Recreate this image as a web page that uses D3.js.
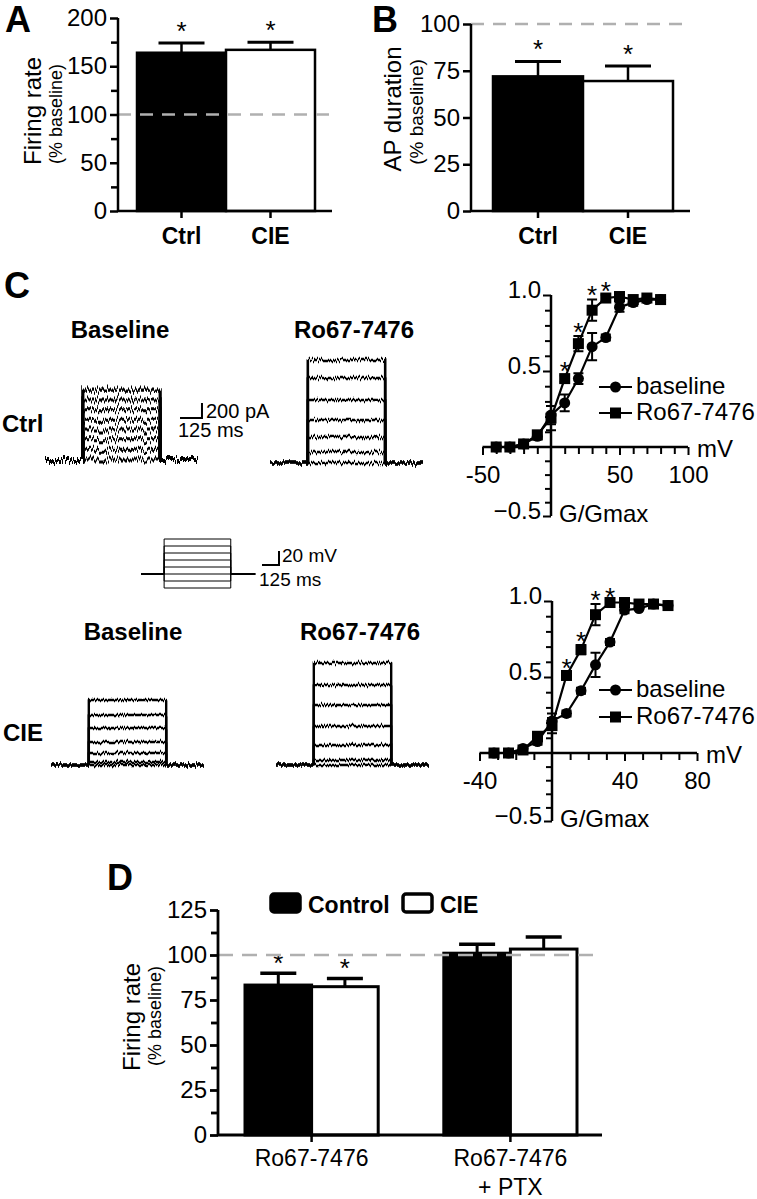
<!DOCTYPE html>
<html><head><meta charset="utf-8">
<script src="https://cdn.jsdelivr.net/npm/d3@7"></script>
<style>body{margin:0;background:#fff} svg{display:block}</style>
</head><body><svg id="fig" width="757" height="1199"></svg>
<script>
// ---------------- DATA ----------------
// Panel A
const groupsAB = ["Ctrl", "CIE"];
const firingA = [164, 167];
const firingAErr = [10, 8];
const firingASig = [true, true];
const ticksA = [0, 50, 100, 150, 200];
const minorTicksA = [25, 75, 125, 175];
// Panel B
const apDur = [72, 69.5];
const apDurErr = [8, 8];
const apDurSig = [true, true];
const ticksB = [0, 25, 50, 75, 100];
// Panel C – example current traces (pA), times (ms)
const traceTimes = [0, 215, 655, 870];
const ctrlBaseLevels = [0, 130, 270, 400, 530, 670, 800, 933];
const ctrlRoLevels = [0, 147, 347, 573, 840, 1133, 1373];
const cieBaseLevels = [0, 40, 160, 307, 493, 667, 867];
const cieRoLevels = [0, 67, 267, 520, 800, 1067, 1360];
// voltage protocol (mV relative to holding), times (ms)
const protocolTimes = [0, 170, 660, 840];
const protocolLevels = [-20, -10, 0, 10, 20, 30, 40, 50];
// Panel C – G/Gmax curves
const ctrlV = [-40, -30, -20, -10, 0, 10, 20, 30, 40, 50, 60, 70, 80];
const ctrlBaseG = [0.00, 0.00, 0.02, 0.07, 0.21, 0.29, 0.45, 0.66, 0.72, 0.92, 0.95, 0.97, 0.97];
const ctrlBaseErr = [0.01, 0.01, 0.01, 0.02, 0.06, 0.055, 0.035, 0.09, 0.02, 0.03, 0.02, 0.01, 0.02];
const ctrlRoG = [0.00, 0.00, 0.02, 0.08, 0.19, 0.45, 0.68, 0.90, 0.98, 0.99, 0.97, 0.98, 0.97];
const ctrlRoErr = [0.01, 0.01, 0.01, 0.02, 0.08, 0.02, 0.05, 0.07, 0.02, 0.01, 0.01, 0.01, 0.01];
const ctrlSigV = [10, 20, 30, 40];
const cieV = [-32, -24, -16, -8, 0, 8, 16, 24, 32, 40, 48, 56, 64];
const cieBaseG = [0.00, 0.00, 0.03, 0.075, 0.21, 0.26, 0.41, 0.58, 0.73, 0.94, 0.95, 0.98, 0.97];
const cieBaseErr = [0.01, 0.01, 0.01, 0.02, 0.05, 0.02, 0.02, 0.08, 0.02, 0.02, 0.01, 0.01, 0.01];
const cieRoG = [0.00, 0.00, 0.02, 0.11, 0.18, 0.51, 0.68, 0.91, 0.99, 0.99, 0.98, 0.98, 0.97];
const cieRoErr = [0.01, 0.01, 0.01, 0.02, 0.05, 0.02, 0.03, 0.07, 0.01, 0.01, 0.01, 0.01, 0.01];
const cieSigV = [8, 16, 24, 32];
const gTicksMajor = [-0.5, 0.5, 1.0];
const gTicksMinor = [-0.4, -0.3, -0.2, -0.1, 0.1, 0.2, 0.3, 0.4, 0.6, 0.7, 0.8, 0.9];
// Panel D
const groupsD = ["Ro67-7476", "Ro67-7476|+ PTX"];
const seriesD = ["Control", "CIE"];
const dControl = [83.3, 101];
const dControlErr = [6.5, 5];
const dCIE = [82.4, 103.3];
const dCIEErr = [4.6, 6.7];
const dSig = [[true, true], [false, false]];
const ticksD = [0, 25, 50, 75, 100, 125];
const minorTicksD = [12.5, 37.5, 62.5, 87.5, 112.5];

// ---------------- DRAWING ----------------
const FONT = "'Liberation Sans', Arial, Helvetica, sans-serif";
const svg = d3.select("#fig").style("font-family", FONT);
const defs = svg.append("defs");
function noiseFilter(id, freq, scale, seed) {
  const f = defs.append("filter").attr("id", id).attr("filterUnits", "userSpaceOnUse")
    .attr("x", 0).attr("y", 0).attr("width", 757).attr("height", 1199);
  f.append("feTurbulence").attr("type", "fractalNoise").attr("baseFrequency", freq)
    .attr("numOctaves", 2).attr("seed", seed).attr("result", "t");
  f.append("feColorMatrix").attr("in", "t").attr("type", "matrix")
    .attr("values", "0 0 0 0 0.5  0 1 0 0 0  0 0 0 0 0  0 0 0 0 1").attr("result", "m");
  f.append("feDisplacementMap").attr("in", "SourceGraphic").attr("in2", "m")
    .attr("scale", scale).attr("xChannelSelector", "R").attr("yChannelSelector", "G");
}
noiseFilter("nz1", "0.7 0.01", 14, 2);
noiseFilter("nz2", "0.7 0.01", 8, 5);
noiseFilter("nz3", "0.7 0.01", 6, 7);

function text(x, y, str, size, opts = {}) {
  return svg.append("text").attr("x", x).attr("y", y).text(str)
    .attr("font-size", size).attr("font-weight", opts.bold ? "bold" : null)
    .attr("text-anchor", opts.anchor || "start").attr("fill", "#000");
}
function vText(cx, cy, str, size) {
  svg.append("text").attr("transform", `translate(${cx},${cy}) rotate(-90)`)
    .attr("text-anchor", "middle").attr("dy", "0.35em").attr("font-size", size).text(str);
}
function star(x, yc, size = 26) {
  text(x, yc + 0.57 * size, "*", size, { anchor: "middle" });
}
function styleAxis(g, sw = 2.2) {
  g.selectAll("path.domain").remove();
  g.selectAll(".tick line").attr("stroke", "#000").attr("stroke-width", sw);
  g.selectAll(".tick text").attr("fill", "#000").attr("font-family", FONT);
}
function yAxisWithMinors(scale, x, majors, minors, size, fmt, sw = 2.5) {
  const gM = svg.append("g").attr("transform", `translate(${x},0)`)
    .call(d3.axisLeft(scale).tickValues(majors).tickSize(8).tickSizeOuter(0).tickPadding(3).tickFormat(fmt));
  styleAxis(gM, sw);
  gM.selectAll(".tick text").attr("font-size", size);
  const gm = svg.append("g").attr("transform", `translate(${x},0)`)
    .call(d3.axisLeft(scale).tickValues(minors).tickSize(7).tickSizeOuter(0).tickFormat(""));
  styleAxis(gm, sw);
  const r = scale.range();
  svg.append("line").attr("x1", x).attr("x2", x).attr("y1", d3.min(r)).attr("y2", d3.max(r))
    .attr("stroke", "#000").attr("stroke-width", sw);
}

// ---- bar panel helper (A, B) ----
function barPanel(cfg) {
  const y = d3.scaleLinear().domain(cfg.yDomain).range(cfg.yRange);
  const x = d3.scaleBand().domain(groupsAB).range(cfg.xRange);
  const fills = ["#000", "#fff"];
  cfg.values.forEach((v, i) => {
    const g = groupsAB[i], cx = x(g) + x.bandwidth() / 2;
    svg.append("rect").attr("x", x(g)).attr("width", x.bandwidth())
      .attr("y", y(v)).attr("height", y(0) - y(v))
      .attr("fill", fills[i]).attr("stroke", "#000").attr("stroke-width", 2.5);
    svg.append("line").attr("x1", cx).attr("x2", cx).attr("y1", y(v)).attr("y2", y(v + cfg.errs[i]))
      .attr("stroke", "#000").attr("stroke-width", 2.5);
    svg.append("line").attr("x1", cx - 23).attr("x2", cx + 23).attr("y1", y(v + cfg.errs[i])).attr("y2", y(v + cfg.errs[i]))
      .attr("stroke", "#000").attr("stroke-width", 3);
    if (cfg.sig[i]) star(cx, y(v + cfg.errs[i]) - 18);
  });
  svg.append("line").attr("x1", cfg.axisX).attr("x2", cfg.axisEnd).attr("y1", y(100)).attr("y2", y(100))
    .attr("stroke", "#b0b0b0").attr("stroke-width", 2.5).attr("stroke-dasharray", "13,9");
  yAxisWithMinors(y, cfg.axisX, cfg.majors, cfg.minors, 24, d3.format("d"));
  svg.append("line").attr("x1", cfg.axisX).attr("x2", cfg.axisEnd).attr("y1", y(0)).attr("y2", y(0))
    .attr("stroke", "#000").attr("stroke-width", 2.5);
  const gx = svg.append("g").attr("transform", `translate(0,${y(0)})`)
    .call(d3.axisBottom(x).tickSize(7).tickSizeOuter(0).tickPadding(9));
  styleAxis(gx, 2.5);
  gx.selectAll(".tick text").attr("font-size", 23).attr("font-weight", "bold").attr("dy", "0.72em");
  return y;
}

// Panel A
text(5, 32, "A", 36, { bold: true });
barPanel({ yDomain: [0, 200], yRange: [211, 18], xRange: [137, 315], values: firingA, errs: firingAErr,
  sig: firingASig, axisX: 118, axisEnd: 332, majors: ticksA, minors: minorTicksA });
vText(33, 111, "Firing rate", 24);
vText(56, 114, "(% baseline)", 18);

// Panel B
text(372, 32, "B", 36, { bold: true });
barPanel({ yDomain: [0, 100], yRange: [211, 24], xRange: [493, 673], values: apDur, errs: apDurErr,
  sig: apDurSig, axisX: 471, axisEnd: 690, majors: ticksB, minors: [] });
vText(393, 109, "AP duration", 24);
vText(416, 112, "(% baseline)", 19);

// ---- Panel C traces ----
text(4, 298, "C", 36, { bold: true });
const pxPerPA = 15 / 200;
function traceSet(levels, x0, x1, baseY, filterId, sw) {
  const x = d3.scaleLinear().domain([traceTimes[0], traceTimes[3]]).range([x0, x1]);
  const y = d3.scaleLinear().domain([0, 200]).range([baseY, baseY - 200 * pxPerPA]);
  const line = d3.line().x(d => x(d[0])).y(d => y(d[1]));
  const g = svg.append("g").attr("filter", `url(#${filterId})`);
  levels.forEach(l => {
    const pts = [[traceTimes[0], 0], [traceTimes[1], 0], [traceTimes[1], l], [traceTimes[2], l], [traceTimes[2], 0], [traceTimes[3], 0]];
    g.append("path").attr("d", line(pts)).attr("fill", "none").attr("stroke", "#000")
      .attr("stroke-width", sw).attr("stroke-linejoin", "round");
  });
  return { x, y };
}
const tCB = traceSet(ctrlBaseLevels, 45, 198, 460, "nz1", 3.2);
traceSet(ctrlRoLevels, 270, 423, 463, "nz2", 2.6);
traceSet(cieBaseLevels, 51, 204, 765, "nz3", 2.4);
traceSet(cieRoLevels, 276, 429, 765, "nz3", 2.4);

text(120, 338, "Baseline", 24, { bold: true, anchor: "middle" });
text(354, 338, "Ro67-7476", 24, { bold: true, anchor: "middle" });
text(2, 432, "Ctrl", 24, { bold: true });
text(133, 640, "Baseline", 24, { bold: true, anchor: "middle" });
text(360, 640, "Ro67-7476", 24, { bold: true, anchor: "middle" });
text(3, 741, "CIE", 24, { bold: true });

// current scale bar: 200 pA / 125 ms
{
  const sx = 180, sy = 418;
  const w = tCB.x(125) - tCB.x(0), h = tCB.y(0) - tCB.y(200);
  svg.append("path").attr("d", `M${sx},${sy}H${sx + w}V${sy - h}`).attr("fill", "none")
    .attr("stroke", "#000").attr("stroke-width", 2);
  text(sx + w + 4, sy, "200 pA", 20);
  text(sx - 2, 437, "125 ms", 20);
}
// voltage protocol
{
  const px = d3.scaleLinear().domain([0, 125]).range([141, 158]);
  const py = d3.scaleLinear().domain([0, 10]).range([574, 567]);
  const line = d3.line().x(d => px(d[0])).y(d => py(d[1]));
  protocolLevels.forEach(l => {
    const pts = [[protocolTimes[0], 0], [protocolTimes[1], 0], [protocolTimes[1], l], [protocolTimes[2], l], [protocolTimes[2], 0], [protocolTimes[3], 0]];
    svg.append("path").attr("d", line(pts)).attr("fill", "none").attr("stroke", "#000").attr("stroke-width", 1);
  });
  const sx = 262, sy = 565;
  const w = px(125) - px(0), h = py(0) - py(20);
  svg.append("path").attr("d", `M${sx},${sy}H${sx + w}V${sy - h}`).attr("fill", "none")
    .attr("stroke", "#000").attr("stroke-width", 2);
  text(sx + w + 3, 562, "20 mV", 19);
  text(259, 586, "125 ms", 19);
}

// ---- G/Gmax plots ----
function marker(shape, cx, cy) {
  if (shape === "circle")
    svg.append("circle").attr("cx", cx).attr("cy", cy).attr("r", 5.5).attr("fill", "#000");
  else
    svg.append("rect").attr("x", cx - 5.5).attr("y", cy - 5.5).attr("width", 11).attr("height", 11).attr("fill", "#000");
}
function gPlot(cfg) {
  const x = d3.scaleLinear().domain(cfg.xDomain).range(cfg.xRange);
  const y = d3.scaleLinear().domain([-0.5, 0, 1]).range(cfg.yRange);
  const x0 = x(0), y0 = y(0);
  svg.append("line").attr("x1", x(cfg.xDomain[0])).attr("x2", x(cfg.xDomain[1])).attr("y1", y0).attr("y2", y0)
    .attr("stroke", "#000").attr("stroke-width", 2.5);
  const gx = svg.append("g").attr("transform", `translate(0,${y0})`)
    .call(d3.axisBottom(x).tickValues(cfg.xMinor).tickSize(7).tickFormat(""));
  styleAxis(gx, 2);
  const gxl = svg.append("g").attr("transform", `translate(0,${y0})`)
    .call(d3.axisBottom(x).tickValues(cfg.xMajor).tickSize(8).tickPadding(11).tickFormat(d => String(d)));
  styleAxis(gxl, 2);
  gxl.selectAll(".tick text").attr("font-size", 24).attr("dy", "0.72em");
  const gy = svg.append("g").attr("transform", `translate(${x0},0)`)
    .call(d3.axisLeft(y).tickValues(gTicksMajor).tickSize(8).tickPadding(2).tickFormat(d3.format(".1f")));
  styleAxis(gy, 2);
  gy.selectAll(".tick text").attr("font-size", 24).attr("dy", "0.1em");
  const gym = svg.append("g").attr("transform", `translate(${x0},0)`)
    .call(d3.axisLeft(y).tickValues(gTicksMinor).tickSize(6).tickFormat(""));
  styleAxis(gym, 2);
  svg.append("line").attr("x1", x0).attr("x2", x0).attr("y1", y(1)).attr("y2", y(-0.5))
    .attr("stroke", "#000").attr("stroke-width", 2.5);
  text(x(cfg.xDomain[1]) + 9, y0 + 10, "mV", 24);
  text(x0 + 8, y(-0.5) + 6, "G/Gmax", 24);

  const line = d3.line().x(d => x(d[0])).y(d => y(d[1]));
  const series = [
    { g: cfg.base, e: cfg.baseErr, shape: "circle" },
    { g: cfg.ro, e: cfg.roErr, shape: "square" }
  ];
  series.forEach(s => {
    const pts = cfg.V.map((v, i) => [v, s.g[i]]);
    svg.append("path").attr("d", line(pts)).attr("fill", "none").attr("stroke", "#000").attr("stroke-width", 2.2);
  });
  series.forEach(s => {
    cfg.V.forEach((v, i) => {
      const cx = x(v), lo = y(s.g[i] - s.e[i]), hi = y(s.g[i] + s.e[i]);
      svg.append("path").attr("d", `M${cx},${lo}V${hi}M${cx - 5},${lo}H${cx + 5}M${cx - 5},${hi}H${cx + 5}`)
        .attr("stroke", "#000").attr("stroke-width", 2).attr("fill", "none");
    });
  });
  series.forEach(s => cfg.V.forEach((v, i) => marker(s.shape, x(v), y(s.g[i]))));
  cfg.sigV.forEach(v => {
    const i = cfg.V.indexOf(v);
    const top = Math.min(y(cfg.ro[i] + cfg.roErr[i]), y(cfg.base[i] + cfg.baseErr[i]));
    star(x(v), top - 10);
  });
  const lx = 599, lw = 33;
  [["circle", "baseline", cfg.legY[0]], ["square", "Ro67-7476", cfg.legY[1]]].forEach(([shape, lab, ly]) => {
    svg.append("line").attr("x1", lx).attr("x2", lx + lw).attr("y1", ly).attr("y2", ly)
      .attr("stroke", "#000").attr("stroke-width", 2.2);
    marker(shape, lx + lw / 2, ly);
    text(lx + lw + 4, ly + 7, lab, 24);
  });
}
gPlot({ xDomain: [-50, 100], xRange: [482.5, 688], yRange: [516, 447, 295],
  xMajor: [-50, 50, 100], xMinor: d3.range(-40, 100, 10).filter(d => d !== 0 && d !== 50),
  V: ctrlV, base: ctrlBaseG, baseErr: ctrlBaseErr, ro: ctrlRoG, roErr: ctrlRoErr, sigV: ctrlSigV,
  legY: [387, 413] });
gPlot({ xDomain: [-40, 80], xRange: [479.5, 697], yRange: [821, 753, 601],
  xMajor: [-40, 40, 80], xMinor: d3.range(-30, 80, 10).filter(d => d !== 0 && d !== 40),
  V: cieV, base: cieBaseG, baseErr: cieBaseErr, ro: cieRoG, roErr: cieRoErr, sigV: cieSigV,
  legY: [690, 717] });

// ---- Panel D ----
text(107, 890, "D", 36, { bold: true });
{
  const y = d3.scaleLinear().domain([0, 125]).range([1135, 910]);
  const x = d3.scaleBand().domain(groupsD).range([245, 577]).paddingInner(0.33);
  const xs = d3.scaleBand().domain(seriesD).range([0, x.bandwidth()]);
  const vals = [dControl, dCIE], errs = [dControlErr, dCIEErr], fills = ["#000", "#fff"];
  groupsD.forEach((g, gi) => {
    seriesD.forEach((s, si) => {
      const v = vals[si][gi], e = errs[si][gi];
      const bx = x(g) + xs(s), cx = bx + xs.bandwidth() / 2;
      svg.append("rect").attr("x", bx).attr("width", xs.bandwidth()).attr("y", y(v)).attr("height", y(0) - y(v))
        .attr("fill", fills[si]).attr("stroke", "#000").attr("stroke-width", 3);
      svg.append("line").attr("x1", cx).attr("x2", cx).attr("y1", y(v)).attr("y2", y(v + e))
        .attr("stroke", "#000").attr("stroke-width", 3);
      svg.append("line").attr("x1", cx - 18).attr("x2", cx + 18).attr("y1", y(v + e)).attr("y2", y(v + e))
        .attr("stroke", "#000").attr("stroke-width", 3.5);
      if (dSig[gi][si]) star(cx, y(v + e) - 16);
    });
  });
  svg.append("line").attr("x1", 218).attr("x2", 602).attr("y1", y(100)).attr("y2", y(100))
    .attr("stroke", "#b0b0b0").attr("stroke-width", 2.5).attr("stroke-dasharray", "15,9");
  yAxisWithMinors(y, 218, ticksD, minorTicksD, 24, d3.format("d"), 2.8);
  svg.append("line").attr("x1", 218).attr("x2", 602).attr("y1", y(0)).attr("y2", y(0))
    .attr("stroke", "#000").attr("stroke-width", 2.8);
  const gx = svg.append("g").attr("transform", `translate(0,${y(0)})`)
    .call(d3.axisBottom(x).tickSize(7).tickSizeOuter(0).tickFormat(""));
  styleAxis(gx, 2.5);
  groupsD.forEach(g => {
    const cx = x(g) + x.bandwidth() / 2;
    g.split("|").forEach((ln, li) => text(cx, 1166 + li * 29, ln, 23, { anchor: "middle" }));
  });
  vText(132, 1017, "Firing rate", 24);
  vText(155, 1016, "(% baseline)", 18);
  const legX = [271, 403], legTxt = [308, 440];
  seriesD.forEach((s, si) => {
    svg.append("rect").attr("x", legX[si]).attr("y", 894).attr("width", 29).attr("height", 18).attr("rx", 3)
      .attr("fill", fills[si]).attr("stroke", "#000").attr("stroke-width", 3.5);
    text(legTxt[si], 913, s, 23, { bold: true });
  });
}
</script>
</body></html>
